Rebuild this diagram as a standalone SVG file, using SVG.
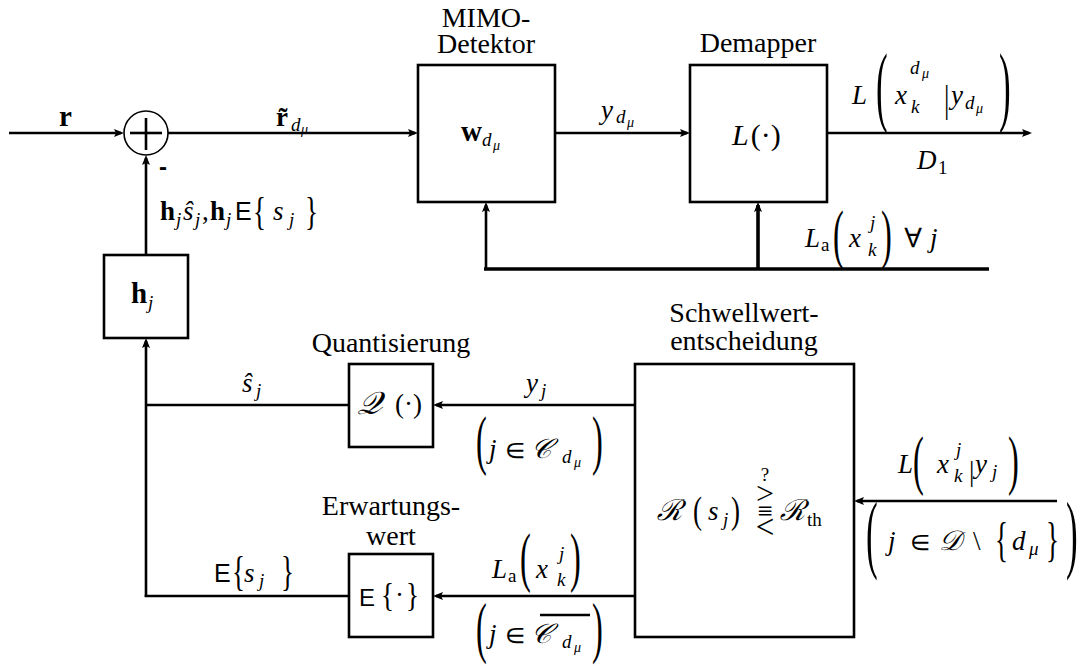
<svg xmlns="http://www.w3.org/2000/svg" width="1087" height="666" viewBox="0 0 1087 666">
<style>
text{font-family:"Liberation Serif","Times New Roman",serif;font-size:27px;fill:#000}
.w{font-size:28px}
.i{font-style:italic}
.b{font-weight:bold}
.s1{font-size:19px}
.s2{font-size:14px}
.sf{font-family:"Liberation Sans",Arial,sans-serif}
.sc{font-family:"Noto Sans Math","STIX Two Math","DejaVu Sans","Noto Sans",serif;font-style:italic}
.mm{font-family:"Noto Sans Math","DejaVu Sans",serif}
.m{text-anchor:middle}
.box{fill:#fff;stroke:#000;stroke-width:2.6}
.ln{stroke:#000;stroke-width:2.6;fill:none}
.thk{stroke-width:3.6}
</style>
<defs>
<marker id="ar" viewBox="0 0 10 8" refX="7" refY="4" markerWidth="10" markerHeight="8" markerUnits="userSpaceOnUse" orient="auto">
<path d="M0,0 L10,4 L0,8 L2,4 z" fill="#000"/>
</marker>
</defs>
<rect width="1087" height="666" fill="#fff"/>

<g id="connectors">
<line class="ln" x1="9" y1="133" x2="121" y2="133" marker-end="url(#ar)"/>
<line class="ln" x1="168" y1="133" x2="415" y2="133" marker-end="url(#ar)"/>
<line class="ln" x1="555" y1="133" x2="687" y2="133" marker-end="url(#ar)"/>
<line class="ln" x1="827" y1="133" x2="1029" y2="133" marker-end="url(#ar)"/>
<line class="ln thk" x1="484" y1="269" x2="989" y2="269"/>
<line class="ln" x1="486" y1="269" x2="486" y2="205" marker-end="url(#ar)"/>
<line class="ln thk" x1="758" y1="269" x2="758" y2="205" marker-end="url(#ar)"/>
<line class="ln" x1="635" y1="405" x2="436" y2="405" marker-end="url(#ar)"/>
<line class="ln" x1="635" y1="596" x2="436" y2="596" marker-end="url(#ar)"/>
<line class="ln" x1="349" y1="405" x2="146" y2="405"/>
<line class="ln" x1="349" y1="596" x2="144.7" y2="596"/>
<line class="ln" x1="146" y1="597" x2="146" y2="341" marker-end="url(#ar)"/>
<line class="ln" x1="146" y1="255" x2="146" y2="158" marker-end="url(#ar)"/>
<line class="ln" x1="1057" y1="501" x2="857" y2="501" marker-end="url(#ar)"/>
<line class="ln" x1="540" y1="615" x2="590" y2="615"/>
</g>

<g id="connector-labels">
<text class="b" x="59" y="126" style="font-size:29px">r</text>
<g id="lbl-rtilde">
<text class="b" x="276" y="126">r̃</text>
<text class="i s1" x="291" y="131">d</text>
<text class="i s2" x="301" y="134">μ</text>
</g>
<text class="sf b" x="159" y="175" style="font-size:24px">-</text>
<g id="lbl-hs">
<text class="b" x="160" y="220">h</text>
<text class="i s1" x="176" y="226">j</text>
<text class="i" x="183" y="220">ŝ</text>
<text class="i s1" x="195" y="226">j</text>
<text x="202" y="220">,</text>
<text class="b" x="210" y="220">h</text>
<text class="i s1" x="226" y="226">j</text>
<text class="sf" x="235" y="220" style="font-size:25px">E</text>
<text transform="translate(253,225) scale(1,1.48)">{</text>
<text class="i" x="273" y="220">s</text>
<text class="i s1" x="289" y="226">j</text>
<text transform="translate(305,225) scale(1,1.48)">}</text>
</g>
<g id="lbl-ydmu">
<text class="i" x="601" y="119">y</text>
<text class="i s1" x="616" y="123">d</text>
<text class="i s2" x="627" y="127">μ</text>
</g>
<g id="lbl-out">
<text class="i" x="852" y="104">L</text>
<text transform="translate(876,115.2) scale(1.3,3.3)">(</text>
<text class="i" x="895" y="104">x</text>
<text class="i s1" x="910" y="74">d</text>
<text class="i s2" x="922" y="78">μ</text>
<text class="i s1" x="911" y="113">k</text>
<text transform="translate(944,112) scale(1,1.37)">|</text>
<text class="i" x="951" y="104">y</text>
<text class="i s1" x="965" y="109">d</text>
<text class="i s2" x="976" y="113">μ</text>
<text transform="translate(999,115.2) scale(1.3,3.3)">)</text>
</g>
<g id="lbl-d1">
<text class="i" x="917" y="169">D</text>
<text class="s1" x="938" y="174">1</text>
</g>
<g id="lbl-la-top">
<text class="i" x="805" y="247">L</text>
<text class="s1" x="821" y="251">a</text>
<text transform="translate(833,255.6) scale(1.2,2.39)">(</text>
<text class="i" x="849" y="247">x</text>
<text class="i s1" x="870" y="229">j</text>
<text class="i s1" x="868" y="256">k</text>
<text transform="translate(881,255.6) scale(1.2,2.39)">)</text>
<text class="mm" x="903" y="247">∀</text>
<text class="i" x="930" y="247">j</text>
</g>
<g id="lbl-in-schwell">
<text class="i" x="898" y="473">L</text>
<text transform="translate(913,481.6) scale(1.2,2.39)">(</text>
<text class="i" x="937" y="473">x</text>
<text class="i s1" x="956" y="456">j</text>
<text class="i s1" x="954" y="482">k</text>
<text transform="translate(969,480.5) scale(1,1.1)">|</text>
<text class="i" x="975" y="473">y</text>
<text class="i s1" x="992" y="478">j</text>
<text transform="translate(1008,481.6) scale(1.2,2.39)">)</text>
</g>
<g id="lbl-jD">
<text transform="translate(866,561.6) scale(1.3,3.21)">(</text>
<text class="i" x="888" y="550">j</text>
<text class="mm" x="911" y="550">∈</text>
<text class="sc" x="940" y="550">𝒟</text>
<text x="973" y="550">\</text>
<text transform="translate(995,556) scale(1,1.81)">{</text>
<text class="i" x="1012" y="550">d</text>
<text class="i s1" x="1029" y="555">μ</text>
<text transform="translate(1046,556) scale(1,1.81)">}</text>
<text transform="translate(1066,561.6) scale(1.3,3.21)">)</text>
</g>
<g id="lbl-yj">
<text class="i" x="526" y="392">y</text>
<text class="i s1" x="541" y="397">j</text>
</g>
<g id="lbl-jC">
<text transform="translate(476,461.6) scale(1.2,2.39)">(</text>
<text class="i" x="489" y="458">j</text>
<text class="mm" x="506" y="458">∈</text>
<text class="sc" x="532" y="458">𝒞</text>
<text class="i s1" x="562" y="463">d</text>
<text class="i s2" x="574" y="467">μ</text>
<text transform="translate(592,461.6) scale(1.2,2.39)">)</text>
</g>
<g id="lbl-la-bot">
<text class="i" x="492" y="578">L</text>
<text class="s1" x="508" y="582">a</text>
<text transform="translate(520,578.6) scale(1.2,2.39)">(</text>
<text class="i" x="536" y="578">x</text>
<text class="i s1" x="559" y="560">j</text>
<text class="i s1" x="557" y="586">k</text>
<text transform="translate(570,578.6) scale(1.2,2.39)">)</text>
</g>
<g id="lbl-jCbar">
<text transform="translate(476,650.2) scale(1.2,2.47)">(</text>
<text class="i" x="489" y="643">j</text>
<text class="mm" x="506" y="643">∈</text>
<text class="sc" x="532" y="643">𝒞</text>
<text class="i s1" x="562" y="648">d</text>
<text class="i s2" x="574" y="652">μ</text>
<text transform="translate(592,650.2) scale(1.2,2.47)">)</text>
</g>
<g id="lbl-shat">
<text class="i" x="242" y="392">ŝ</text>
<text class="i s1" x="256" y="397">j</text>
</g>
<g id="lbl-Es">
<text class="sf" x="214" y="582" style="font-size:25px">E</text>
<text transform="translate(232,585.4) scale(1,1.55)">{</text>
<text class="i" x="244" y="582">s</text>
<text class="i s1" x="259" y="587">j</text>
<text transform="translate(281,585.4) scale(1,1.55)">}</text>
</g>
</g>

<g id="adder">
<circle cx="146" cy="133" r="22" fill="#fff" stroke="#000" stroke-width="1.6"/>
<line class="ln" x1="130" y1="133" x2="162" y2="133"/>
<line class="ln" x1="146" y1="118" x2="146" y2="150"/>
</g>

<g id="mimo">
<rect class="box" x="418" y="65" width="137" height="137"/>
<text class="m w"><tspan x="486" y="27">MIMO-</tspan><tspan x="486" y="53">Detektor</tspan></text>
<text class="b" x="461" y="141" style="font-size:29px">w</text>
<text class="i s1" x="482" y="146">d</text>
<text class="i s2" x="493" y="150">μ</text>
</g>

<g id="demapper">
<rect class="box" x="690" y="65" width="137" height="137"/>
<text class="m w" x="758" y="52">Demapper</text>
<text x="732" y="145" style="font-size:30px"><tspan class="i">L</tspan><tspan dx="2">(·)</tspan></text>
</g>

<g id="hj">
<rect class="box" x="104" y="255" width="84" height="83"/>
<text class="b" x="131" y="303" style="font-size:29px">h</text>
<text class="i s1" x="148" y="309">j</text>
</g>

<g id="quantisierung">
<rect class="box" x="349" y="364" width="84" height="83"/>
<text class="m w" x="391" y="352">Quantisierung</text>
<text class="sc" x="357" y="414" style="font-size:31px">𝒬</text>
<text x="395" y="413">(·)</text>
</g>

<g id="erwartungswert">
<rect class="box" x="349" y="554" width="84" height="83"/>
<text class="m w"><tspan x="391" y="515">Erwartungs-</tspan><tspan x="391" y="545">wert</tspan></text>
<text class="sf" x="359" y="606" style="font-size:24px">E</text>
<text transform="translate(381,605.8) scale(1,1.26)">{</text>
<text x="395" y="604">·</text>
<text transform="translate(406,605.8) scale(1,1.26)">}</text>
</g>

<g id="schwellwert">
<rect class="box" x="635" y="364" width="219" height="273"/>
<text class="m w"><tspan x="744" y="322">Schwellwert-</tspan><tspan x="744" y="350">entscheidung</tspan></text>
<text class="sc" x="656" y="520" style="font-size:29px">ℛ</text>
<text transform="translate(693,523.4) scale(1,1.39)">(</text>
<text class="i" x="708" y="520">s</text>
<text class="i s1" x="723" y="526">j</text>
<text transform="translate(731,523.4) scale(1,1.39)">)</text>
<text class="m"><tspan class="s1" x="765" y="481">?</tspan><tspan x="765" y="503.5" style="font-size:32px">&gt;</tspan><tspan x="765" y="519.5" style="font-size:27px">≡</tspan><tspan x="765" y="538" style="font-size:33px">&lt;</tspan></text>
<text class="sc" x="779" y="520" style="font-size:29px">ℛ</text>
<text class="s1" x="807" y="526">th</text>
</g>
</svg>
